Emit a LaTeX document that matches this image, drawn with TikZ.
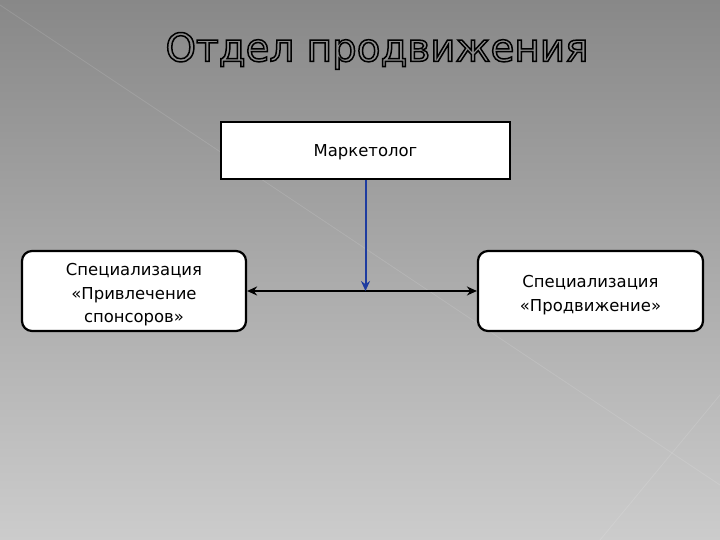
\documentclass[tikz,border=0pt]{standalone}
\usepackage{fontspec}
\setmainfont{DejaVu Sans}
\usetikzlibrary{arrows.meta}
\definecolor{bgtop}{HTML}{888888}
\definecolor{bgbot}{HTML}{CCCCCC}
\definecolor{arrowblue}{HTML}{1E3CA0}
\newcommand{\outlinetext}[1]{\special{pdf:literal direct 1 Tr 1.5 w}#1\special{pdf:literal direct 0 Tr}}
\tikzset{
  box/.style={draw=black, line width=2.2bp, fill=white, inner sep=0pt},
  rbox/.style={box, rounded corners=10bp},
  boxtext/.style={align=center, inner sep=0pt, font=\fontsize{16.5}{23.5}\selectfont},
  link/.style={line width=2.4bp, {Stealth[length=10bp,width=9bp]}-{Stealth[length=10bp,width=9bp]}},
  down/.style={line width=2bp, arrowblue, -{Stealth[length=10bp,width=9bp]}},
  titletext/.style={font=\fontsize{39}{43}\selectfont, inner sep=0pt}
}
\begin{document}
\begin{tikzpicture}[x=1bp,y=1bp]
\useasboundingbox (0,0) rectangle (720,540);
\shade[top color=bgtop, bottom color=bgbot] (0,0) rectangle (720,540);
\draw[white, opacity=0.12, line width=0.8bp] (0,535) -- (720,55);
\draw[white, opacity=0.12, line width=0.8bp] (720,145) -- (600,0);
% title with outline
\node[titletext, text=black] (title) at (377,489) {\outlinetext{Отдел продвижения}};
% boxes
\node[box, minimum width=289bp, minimum height=57bp] (M) at (365.5,389.5) {};
\node[boxtext] (Mt) at (365.5,387.5) {Маркетолог};
\node[rbox, minimum width=224bp, minimum height=80bp] (L) at (134,249) {};
\node[boxtext] (Lt) at (134,245) {Специализация\\«Привлечение\\спонсоров»};
\node[rbox, minimum width=225bp, minimum height=80bp] (R) at (590.5,249) {};
\node[boxtext] (Rt) at (590.5,245) {Специализация\\«Продвижение»};
\draw[link] (L.east) -- (R.west);
\draw[down] (M.south) -- (M.south |- L.east);
\end{tikzpicture}
\end{document}
